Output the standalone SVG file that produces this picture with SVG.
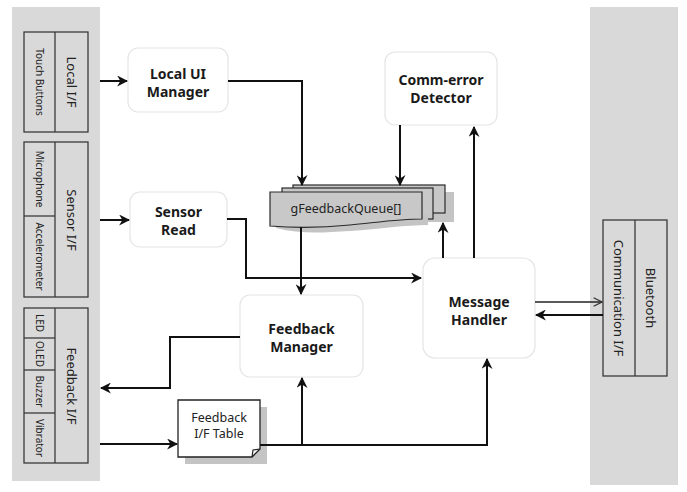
<svg xmlns="http://www.w3.org/2000/svg" width="687" height="492" viewBox="0 0 687 492">
<style>
.band{fill:#d9d9d9}
.ifbox{fill:#d9d9d9;stroke:#3a3a3a;stroke-width:1.3}
.node{fill:#ffffff;stroke:#e4e4e4;stroke-width:1.2}
.nt{font-family:"Noto Sans","DejaVu Sans",sans-serif;font-weight:bold;font-size:14px;fill:#1a1a1a;text-anchor:middle}
.st{font-family:"Noto Sans","DejaVu Sans",sans-serif;font-size:10px;fill:#222;text-anchor:middle;dominant-baseline:central}
.tt{font-family:"Noto Sans","DejaVu Sans",sans-serif;font-size:13px;fill:#222;text-anchor:middle;dominant-baseline:central}
.qt{font-family:"Noto Sans","DejaVu Sans",sans-serif;font-size:12.5px;fill:#222;text-anchor:middle}
.ln{fill:none;stroke:#111;stroke-width:2}
.qbox{fill:#c8c8c8;stroke:#2a2a2a;stroke-width:1.2}
.shadow{fill:#c4c4c4}
</style>
<defs>
<marker id="ah" viewBox="0 0 10 10" refX="9" refY="5" markerWidth="5.5" markerHeight="5.5" orient="auto" markerUnits="strokeWidth">
<path d="M0,0 L10,5 L0,10 L3,5 z" fill="#111"/>
</marker>
<marker id="oa" viewBox="0 0 10 10" refX="9" refY="5" markerWidth="7" markerHeight="7" orient="auto" markerUnits="strokeWidth">
<path d="M1,1 L9,5 L1,9" fill="none" stroke="#333" stroke-width="1.2"/>
</marker>
</defs>
<rect width="687" height="492" fill="#ffffff"/>

<g id="left-band">
<rect class="band" x="12" y="7" width="88" height="474"/>
</g>
<g id="right-band">
<rect class="band" x="590" y="7" width="88" height="478"/>
</g>

<g id="local-if">
<rect class="ifbox" x="24" y="32" width="64" height="100"/>
<line x1="55" y1="32" x2="55" y2="132" stroke="#3a3a3a" stroke-width="1.3"/>
<text class="st" transform="translate(39.5,82) rotate(90)">Touch Buttons</text>
<text class="tt" transform="translate(71.5,82) rotate(90)">Local I/F</text>
</g>

<g id="sensor-if">
<rect class="ifbox" x="24" y="142" width="64" height="155"/>
<line x1="55" y1="142" x2="55" y2="297" stroke="#3a3a3a" stroke-width="1.3"/>
<line x1="24" y1="216" x2="55" y2="216" stroke="#3a3a3a" stroke-width="1.3"/>
<text class="st" transform="translate(39.5,179) rotate(90)">Microphone</text>
<text class="st" transform="translate(39.5,256.5) rotate(90)">Accelerometer</text>
<text class="tt" transform="translate(71.5,220) rotate(90)">Sensor I/F</text>
</g>

<g id="feedback-if">
<rect class="ifbox" x="24" y="308" width="64" height="155"/>
<line x1="55" y1="308" x2="55" y2="463" stroke="#3a3a3a" stroke-width="1.3"/>
<line x1="24" y1="338" x2="55" y2="338" stroke="#3a3a3a" stroke-width="1.3"/>
<line x1="24" y1="370" x2="55" y2="370" stroke="#3a3a3a" stroke-width="1.3"/>
<line x1="24" y1="413" x2="55" y2="413" stroke="#3a3a3a" stroke-width="1.3"/>
<text class="st" transform="translate(39.5,323) rotate(90)">LED</text>
<text class="st" transform="translate(39.5,354) rotate(90)">OLED</text>
<text class="st" transform="translate(39.5,391.5) rotate(90)">Buzzer</text>
<text class="st" transform="translate(39.5,438) rotate(90)">Vibrator</text>
<text class="tt" transform="translate(71.5,386) rotate(90)">Feedback I/F</text>
</g>

<g id="bluetooth-if">
<rect class="ifbox" x="603" y="220" width="64" height="156"/>
<line x1="635" y1="220" x2="635" y2="376" stroke="#3a3a3a" stroke-width="1.3"/>
<text class="tt" transform="translate(619,298) rotate(90)">Communication I/F</text>
<text class="tt" transform="translate(651,298) rotate(90)">Bluetooth</text>
</g>

<g id="local-ui-manager">
<rect class="node" x="128" y="48" width="100" height="64" rx="10"/>
<text class="nt" x="178" y="79">Local UI</text>
<text class="nt" x="178" y="97">Manager</text>
</g>

<g id="comm-error-detector">
<rect class="node" x="385" y="52" width="112" height="73" rx="10"/>
<text class="nt" x="441" y="85">Comm-error</text>
<text class="nt" x="441" y="103">Detector</text>
</g>

<g id="sensor-read">
<rect class="node" x="130" y="192" width="97" height="55" rx="10"/>
<text class="nt" x="178.5" y="217">Sensor</text>
<text class="nt" x="178.5" y="235">Read</text>
</g>

<g id="feedback-queue">
<rect class="shadow" x="300" y="192" width="154" height="30"/>
<rect class="qbox" x="293" y="185" width="152" height="28"/>
<rect class="qbox" x="282" y="188" width="151" height="31"/>
<path class="shadow" d="M276,228 C300,234 320,233 350,231 C380,229 405,225 428,225 L428,215 L276,215 Z"/>
<path class="qbox" d="M270,192 H422 V219 C400,219 380,222 350,225 C320,228 295,228 270,226 Z"/>
<text class="qt" x="346" y="213">gFeedbackQueue[]</text>
</g>

<g id="feedback-manager">
<rect class="node" x="240" y="295" width="123" height="82" rx="10"/>
<text class="nt" x="301.5" y="334">Feedback</text>
<text class="nt" x="301.5" y="352">Manager</text>
</g>

<g id="message-handler">
<rect class="node" x="423" y="258" width="112" height="100" rx="12"/>
<text class="nt" x="479" y="307">Message</text>
<text class="nt" x="479" y="325">Handler</text>
</g>

<g id="feedback-table">
<path class="shadow" d="M185,407 H267 V464 H185 Z"/>
<path d="M178,400 H260 V449 L252,457 H178 Z" fill="#ffffff" stroke="#222" stroke-width="1.3"/>
<path d="M252,457 L253,450 L260,449" fill="none" stroke="#222" stroke-width="1.2"/>
<text class="qt" x="219" y="422" font-size="12px">Feedback</text>
<text class="qt" x="219" y="438" font-size="12px">I/F Table</text>
</g>

<g id="connectors">
<path class="ln" d="M100,81 H127" marker-end="url(#ah)"/>
<path class="ln" d="M228,81 H302 V185" marker-end="url(#ah)"/>
<path class="ln" d="M400,125 V185" marker-end="url(#ah)"/>
<path class="ln" d="M443,258 V223" marker-end="url(#ah)"/>
<path class="ln" d="M474,258 V127" stroke-width="1.6" marker-end="url(#ah)"/>
<path class="ln" d="M100,220 H129" stroke="#555" marker-end="url(#ah)"/>
<path class="ln" d="M227,219 H246 V278 H421" marker-end="url(#ah)"/>
<path class="ln" d="M301,227 V294" marker-end="url(#ah)"/>
<path class="ln" d="M240,337 H170 V388 H101" marker-end="url(#ah)"/>
<path class="ln" d="M100,444 H177" marker-end="url(#ah)"/>
<path class="ln" d="M260,445 H487 V359" marker-end="url(#ah)"/>
<path class="ln" d="M302,445 V378" marker-end="url(#ah)"/>
<path d="M535,302 H602" fill="none" stroke="#222" stroke-width="1.5" marker-end="url(#oa)"/>
<path class="ln" d="M603,315 H536" marker-end="url(#ah)"/>
</g>
</svg>
